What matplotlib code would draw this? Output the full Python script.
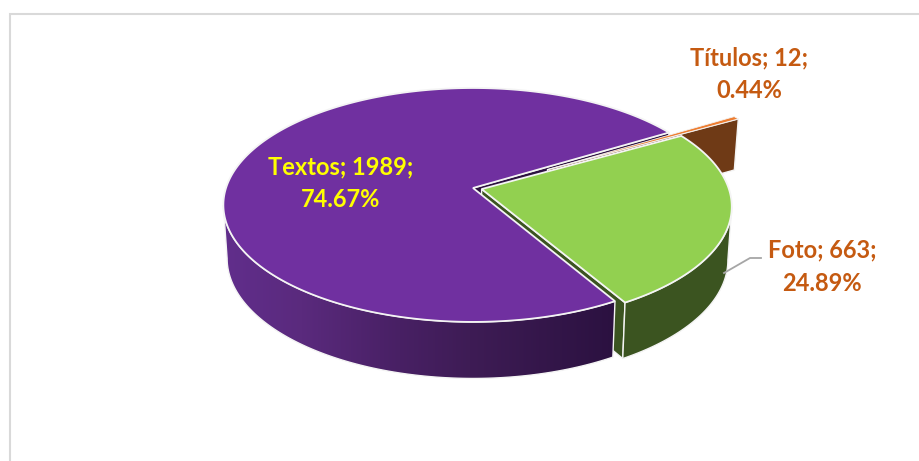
import numpy as np
import matplotlib
matplotlib.use("Agg")
import matplotlib.pyplot as plt
from matplotlib.patches import Polygon
from matplotlib.colors import LinearSegmentedColormap

# --- data ---
categories = ["Textos", "Foto", "Títulos"]
values = [1989, 663, 12]
percents = ["74.67%", "24.89%", "0.44%"]

# --- style / projection ---
top_colors = ["#7030a0", "#92d050", "#ed7d31"]
wall_colors = ["#2c1140", "#3b5420", "#6f3a16"]
explode = [0.0, 0.036, 0.35]
explode_dir = [None, None, 28.0]
START = 31.4      # degrees, counter-clockwise start of first slice
CX, CY = 473.0, 188.0
A, C, K = 247.0, 114.5, 0.145
EDGE = "#f4f4f4"

plt.rcParams["font.family"] = ["Lato", "DejaVu Sans"]
fig = plt.figure(figsize=(9.19, 4.61), dpi=100)
ax = fig.add_axes([0, 0, 1, 1])
ax.set_xlim(0, 919)
ax.set_ylim(461, 0)
ax.axis("off")


def proj(x, y):
    w = 1 + K * y
    return CX + A * x / w, CY - C * y / w


def drop(px, py):
    """Lower rim of the pie for a point of the upper face."""
    px, py = np.asarray(px, float), np.asarray(py, float)
    return CX + (px - CX) * 0.985, py + 51 + (py - 117) * 0.027


fractions = np.array(values, float) / sum(values)
edges = START + 360 * np.concatenate([[0], np.cumsum(fractions)])
slices = []
for i in range(len(values)):
    t0, t1 = edges[i], edges[i + 1]
    mid = np.radians(explode_dir[i] if explode_dir[i] is not None else (t0 + t1) / 2)
    ox, oy = explode[i] * np.cos(mid), explode[i] * np.sin(mid)
    th = np.radians(np.linspace(t0, t1, max(4, int(t1 - t0) * 3)))
    rx, ry = proj(ox + np.cos(th), oy + np.sin(th))
    ax0, ay0 = proj(ox, oy)
    slices.append(dict(rx=rx, ry=ry, ax=ax0, ay=ay0))


def inner_wall(i, j, z):
    s = slices[i]
    bx, by = drop([s["ax"], s["rx"][j]], [s["ay"], s["ry"][j]])
    pts = [(s["ax"], s["ay"]), (s["rx"][j], s["ry"][j]), (bx[1], by[1]), (bx[0], by[0])]
    ax.add_patch(Polygon(pts, closed=True, fc=wall_colors[i], ec=EDGE, lw=1.0, zorder=z))


def outer_polygon(i):
    s = slices[i]
    n = len(s["rx"])
    lo = int(np.argmin(s["rx"]))
    hi = int(np.argmax(s["rx"]))
    lo = lo if 0 < lo < n - 1 else 0
    hi = hi if 0 < hi < n - 1 else n - 1
    bx, by = drop(s["rx"], s["ry"])
    top = list(zip(s["rx"][lo:hi + 1], s["ry"][lo:hi + 1]))
    bot = list(zip(bx[lo:hi + 1], by[lo:hi + 1]))
    return top + bot[::-1]


def top_face(i, z, lw=1.3):
    s = slices[i]
    pts = [(s["ax"], s["ay"])] + list(zip(s["rx"], s["ry"]))
    ax.add_patch(Polygon(pts, closed=True, fc=top_colors[i], ec=EDGE, lw=lw, zorder=z))


# purple inner wall, then green walls
inner_wall(0, 0, 1)
inner_wall(1, 0, 2)
ax.add_patch(Polygon(outer_polygon(1), closed=True, fc=wall_colors[1], ec=EDGE, lw=1.0, zorder=3))

# purple outer wall with horizontal gradient
grad_cmap = LinearSegmentedColormap.from_list(
    "wall", [(0, "#612e8c"), (0.2, "#5a2a7d"), (0.45, "#482064"), (0.63, "#3e1c55"), (1, "#2b1140")])
poly = Polygon(outer_polygon(0), closed=True, fc="none", ec=EDGE, lw=1.0, zorder=5)
ax.add_patch(poly)
im = ax.imshow(np.linspace(0, 1, 256)[None, :], cmap=grad_cmap, aspect="auto",
               extent=(223, 616, 400, 200), zorder=4)
im.set_clip_path(poly)
ax.set_xlim(0, 919)
ax.set_ylim(461, 0)

top_face(0, 6)
# thin slice
inner_wall(2, 0, 7)
top_face(2, 8, lw=0.6)
# green face last
top_face(1, 9)

# frame
ax.plot([10, 10, 919], [461, 14, 14], color="#d9d9d9", lw=1.5, solid_joinstyle="miter", zorder=10)

# leader
ax.plot([724, 750, 761], [273, 258, 258], color="#a6a6a6", lw=1.3, zorder=10)

# labels
orange = "#c55a11"
fs = 17
tkw = dict(ha="center", va="center", fontweight="bold", fontsize=fs, zorder=11)
ax.text(341, 167, f"{categories[0]}; {values[0]};", color="#ffff00", **tkw)
ax.text(341, 199, percents[0], color="#ffff00", **tkw)
ax.text(822, 250, f"{categories[1]}; {values[1]};", color=orange, **tkw)
ax.text(822, 283, percents[1], color=orange, **tkw)
ax.text(749, 58, f"{categories[2]}; {values[2]};", color=orange, **tkw)
ax.text(749, 90, percents[2], color=orange, **tkw)

fig.savefig("out.png", dpi=100)
